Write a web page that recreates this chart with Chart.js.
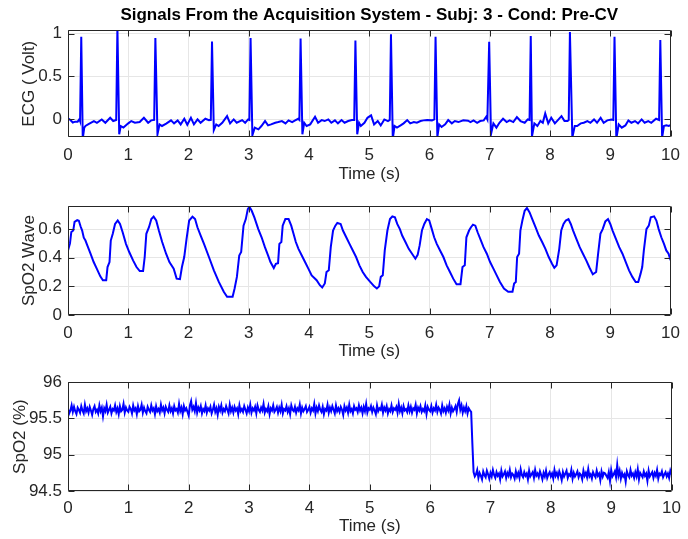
<!DOCTYPE html>
<html>
<head>
<meta charset="utf-8">
<title>Signals From the Acquisition System</title>
<script src="https://cdn.jsdelivr.net/npm/chart.js@4.4.1/dist/chart.umd.min.js"></script>
<style>
  html, body { margin: 0; padding: 0; background: #fff; overflow: hidden; }
  #figure { position: relative; width: 688px; height: 539px; }
  #figure canvas { position: absolute; left: 0; }
</style>
</head>
<body>
<div id="figure">
  <canvas id="ecgChart" width="688" height="190" style="top:0px"></canvas>
  <canvas id="waveChart" width="688" height="176" style="top:190px"></canvas>
  <canvas id="spo2Chart" width="688" height="173" style="top:366px"></canvas>
</div>
<script>
const figureTitle = 'Signals From the Acquisition System - Subj: 3 - Cond: Pre-CV';

const timeTicks = [0, 1, 2, 3, 4, 5, 6, 7, 8, 9, 10];
const ecgTicks = [0, 0.5, 1];
const waveTicks = [0, 0.2, 0.4, 0.6];
const spo2Ticks = [94.5, 95, 95.5, 96];

// ECG trace, [time (s), volt]
const ecgPoints = [
  [0, 0.01], [0.04, -0.01], [0.08, -0.04], [0.12, -0.03], [0.16, -0.03], [0.19, 0.0], [0.2, -0.02],
  [0.22, 0.965], [0.245, -0.23], [0.27, -0.10], [0.29, -0.08], [0.34, -0.06], [0.43, -0.023], [0.48, -0.043],
  [0.56, -0.004], [0.62, -0.043], [0.70, 0.015], [0.75, -0.023], [0.80, -0.01],
  [0.82, 1.08], [0.85, -0.178], [0.875, -0.081], [0.92, -0.10], [1.0, -0.05], [1.05, -0.023], [1.11, -0.043],
  [1.19, -0.035], [1.26, 0.015], [1.33, -0.043], [1.38, -0.015], [1.43, -0.01],
  [1.45, 0.95], [1.485, -0.178], [1.52, -0.062], [1.56, -0.081], [1.63, -0.054], [1.71, -0.015], [1.76, -0.05],
  [1.82, -0.015], [1.87, -0.062], [1.93, 0.004], [1.98, -0.066], [2.04, 0.015], [2.09, -0.062], [2.15, -0.004],
  [2.20, -0.043], [2.28, 0.004], [2.34, -0.012], [2.37, -0.01],
  [2.39, 0.91], [2.42, -0.128], [2.46, -0.062], [2.50, -0.081], [2.56, -0.043], [2.64, 0.035], [2.69, -0.05],
  [2.75, -0.004], [2.80, -0.043], [2.89, -0.012], [2.94, -0.043], [2.99, -0.004], [3.01, -0.01],
  [3.03, 0.95], [3.06, -0.19], [3.10, -0.10], [3.16, -0.12], [3.21, -0.081], [3.27, -0.023], [3.32, -0.074],
  [3.37, -0.062], [3.44, -0.043], [3.49, -0.035], [3.55, -0.023], [3.61, -0.05], [3.66, -0.015], [3.72, -0.035],
  [3.77, -0.015], [3.82, 0.004], [3.84, -0.01],
  [3.86, 0.946], [3.89, -0.178], [3.92, -0.043], [3.96, -0.081], [4.02, -0.062], [4.10, 0.027], [4.15, -0.043],
  [4.21, -0.012], [4.26, -0.023], [4.32, -0.004], [4.37, -0.043], [4.43, -0.015], [4.48, -0.05], [4.54, -0.012],
  [4.59, -0.043], [4.65, -0.023], [4.71, -0.012], [4.75, -0.01],
  [4.77, 0.92], [4.80, -0.178], [4.83, -0.043], [4.86, -0.081], [4.92, -0.043], [4.97, 0.015], [5.03, 0.043],
  [5.08, -0.062], [5.14, -0.023], [5.19, -0.074], [5.25, -0.004], [5.31, -0.023], [5.34, -0.01],
  [5.36, 0.996], [5.39, -0.23], [5.42, -0.081], [5.46, -0.10], [5.52, -0.074], [5.57, -0.05], [5.63, -0.012],
  [5.68, -0.05], [5.74, -0.035], [5.79, -0.043], [5.85, -0.023], [5.90, -0.015], [5.96, -0.012], [6.04, -0.015],
  [6.08, -0.004],
  [6.10, 0.965], [6.13, -0.21], [6.16, -0.062], [6.20, -0.093], [6.26, -0.062], [6.31, -0.012], [6.37, -0.05],
  [6.42, -0.023], [6.48, -0.035], [6.56, -0.015], [6.64, -0.019], [6.68, -0.035], [6.73, -0.015], [6.79, -0.043],
  [6.84, -0.023], [6.90, -0.015], [6.94, 0.027], [6.96, -0.004],
  [6.99, 0.907], [7.02, -0.178], [7.06, -0.05], [7.11, -0.10], [7.16, -0.043], [7.22, 0.004], [7.28, -0.035],
  [7.33, -0.015], [7.39, -0.035], [7.45, 0.023], [7.51, -0.023], [7.58, -0.043], [7.63, -0.004], [7.66, -0.01],
  [7.68, 0.973], [7.70, -0.205], [7.74, -0.05], [7.79, -0.081], [7.84, -0.023], [7.88, -0.043], [7.92, 0.066],
  [7.97, -0.05], [8.02, 0.015], [8.08, -0.05], [8.13, -0.012], [8.19, 0.035], [8.24, -0.023], [8.29, -0.023],
  [8.31, -0.01],
  [8.33, 1.02], [8.37, -0.217], [8.41, -0.081], [8.45, -0.081], [8.51, -0.05], [8.56, -0.043], [8.62, -0.023],
  [8.67, -0.043], [8.73, -0.004], [8.78, -0.043], [8.84, 0.015], [8.89, -0.043], [8.95, -0.015], [9.02, -0.004],
  [9.05, -0.01],
  [9.07, 0.965], [9.10, -0.23], [9.14, -0.062], [9.19, -0.10], [9.25, -0.074], [9.30, -0.015], [9.35, -0.043],
  [9.41, -0.023], [9.46, -0.05], [9.52, -0.004], [9.57, -0.043], [9.63, -0.023], [9.68, -0.043], [9.76, 0.004],
  [9.81, -0.01],
  [9.83, 0.926], [9.86, -0.217], [9.89, -0.081], [9.93, -0.074], [9.97, -0.081], [10.0, -0.07]
];

// pulse oximeter pleth wave, [time (s), value]
const wavePoints = [
  [0, 0.45], [0.033, 0.5], [0.055, 0.58], [0.087, 0.59], [0.109, 0.65], [0.153, 0.663], [0.18, 0.658],
  [0.208, 0.62], [0.235, 0.59], [0.262, 0.54], [0.29, 0.52], [0.317, 0.49], [0.372, 0.43], [0.426, 0.37],
  [0.481, 0.32], [0.536, 0.27], [0.579, 0.243], [0.634, 0.243], [0.656, 0.335], [0.689, 0.37], [0.71, 0.52],
  [0.743, 0.567], [0.781, 0.636], [0.825, 0.66], [0.863, 0.636], [0.907, 0.578], [0.962, 0.497], [1.016, 0.44],
  [1.082, 0.38], [1.137, 0.335], [1.191, 0.307], [1.246, 0.307], [1.273, 0.405], [1.3, 0.567], [1.344, 0.613],
  [1.383, 0.67], [1.421, 0.687], [1.464, 0.66], [1.508, 0.59], [1.563, 0.51], [1.628, 0.428], [1.683, 0.37],
  [1.754, 0.324], [1.803, 0.254], [1.858, 0.25], [1.891, 0.335], [1.929, 0.405], [1.967, 0.53], [2.011, 0.66],
  [2.066, 0.687], [2.109, 0.67], [2.148, 0.613], [2.202, 0.555], [2.257, 0.497], [2.339, 0.405], [2.421, 0.312],
  [2.503, 0.231], [2.585, 0.162], [2.64, 0.127], [2.732, 0.127], [2.765, 0.185], [2.803, 0.266], [2.842, 0.416],
  [2.874, 0.44], [2.913, 0.624], [2.951, 0.67], [2.984, 0.74], [3.011, 0.756], [3.049, 0.728], [3.093, 0.682],
  [3.158, 0.6], [3.213, 0.543], [3.268, 0.474], [3.32, 0.416], [3.36, 0.37], [3.415, 0.328], [3.45, 0.358],
  [3.486, 0.362], [3.508, 0.497], [3.541, 0.51], [3.563, 0.624], [3.607, 0.67], [3.661, 0.67], [3.705, 0.624],
  [3.743, 0.567], [3.781, 0.51], [3.825, 0.462], [3.88, 0.416], [3.934, 0.37], [3.989, 0.324], [4.044, 0.277],
  [4.126, 0.243], [4.18, 0.208], [4.219, 0.192], [4.262, 0.22], [4.29, 0.3], [4.328, 0.312], [4.361, 0.474],
  [4.399, 0.59], [4.437, 0.624], [4.47, 0.643], [4.525, 0.636], [4.563, 0.59], [4.618, 0.543], [4.672, 0.497],
  [4.727, 0.451], [4.781, 0.405], [4.836, 0.347], [4.891, 0.3], [4.945, 0.266], [5.016, 0.231], [5.082, 0.2],
  [5.126, 0.185], [5.164, 0.2], [5.191, 0.266], [5.224, 0.277], [5.257, 0.451], [5.301, 0.59], [5.344, 0.67],
  [5.383, 0.689], [5.426, 0.682], [5.464, 0.636], [5.508, 0.6], [5.546, 0.555], [5.6, 0.51], [5.655, 0.462],
  [5.71, 0.428], [5.765, 0.393], [5.803, 0.42], [5.836, 0.486], [5.874, 0.59], [5.913, 0.636], [5.956, 0.67],
  [5.995, 0.66], [6.038, 0.6], [6.077, 0.543], [6.12, 0.497], [6.175, 0.451], [6.23, 0.405], [6.284, 0.347],
  [6.339, 0.3], [6.393, 0.254], [6.448, 0.215], [6.514, 0.215], [6.547, 0.335], [6.585, 0.347], [6.612, 0.543],
  [6.656, 0.59], [6.688, 0.613], [6.721, 0.631], [6.76, 0.624], [6.798, 0.578], [6.842, 0.532], [6.896, 0.474],
  [6.951, 0.428], [7.005, 0.37], [7.06, 0.324], [7.115, 0.277], [7.169, 0.231], [7.235, 0.185], [7.306, 0.162],
  [7.377, 0.162], [7.404, 0.22], [7.432, 0.231], [7.454, 0.405], [7.486, 0.428], [7.508, 0.59], [7.541, 0.66],
  [7.579, 0.728], [7.617, 0.747], [7.661, 0.717], [7.705, 0.67], [7.759, 0.613], [7.814, 0.555], [7.869, 0.51],
  [7.923, 0.462], [7.978, 0.405], [8.033, 0.358], [8.071, 0.33], [8.109, 0.347], [8.153, 0.462], [8.186, 0.59],
  [8.224, 0.636], [8.262, 0.66], [8.306, 0.67], [8.344, 0.636], [8.383, 0.59], [8.437, 0.532], [8.492, 0.474],
  [8.546, 0.428], [8.601, 0.382], [8.656, 0.33], [8.71, 0.284], [8.765, 0.3], [8.798, 0.428], [8.836, 0.567],
  [8.874, 0.6], [8.918, 0.654], [8.962, 0.67], [9.0, 0.636], [9.038, 0.59], [9.093, 0.532], [9.148, 0.474],
  [9.202, 0.428], [9.257, 0.37], [9.311, 0.312], [9.366, 0.266], [9.421, 0.231], [9.464, 0.231], [9.503, 0.289],
  [9.53, 0.335], [9.557, 0.451], [9.6, 0.6], [9.639, 0.624], [9.672, 0.682], [9.727, 0.689], [9.765, 0.66],
  [9.803, 0.6], [9.847, 0.543], [9.891, 0.497], [9.929, 0.451], [9.967, 0.428], [10.0, 0.382]
];

// SpO2 (%) samples, one every spo2SampleStep seconds
const spo2SampleStep = 0.02;
const spo2Values = [
  95.63, 95.57, 95.61, 95.68, 95.59, 95.66, 95.60, 95.56, 95.65, 95.62,
  95.58, 95.67, 95.61, 95.57, 95.69, 95.60, 95.64, 95.58, 95.66, 95.61,
  95.55, 95.63, 95.67, 95.59, 95.62, 95.57, 95.68, 95.60, 95.65, 95.53,
  95.64, 95.60, 95.69, 95.58, 95.62, 95.66, 95.57, 95.63, 95.61, 95.68,
  95.59, 95.64, 95.56, 95.67, 95.60, 95.62, 95.70, 95.58, 95.65, 95.61,
  95.59, 95.66, 95.63, 95.57, 95.68, 95.61, 95.64, 95.56, 95.67, 95.60,
  95.62, 95.69, 95.58, 95.65, 95.60, 95.57, 95.66, 95.62, 95.59, 95.68,
  95.61, 95.64, 95.56, 95.67, 95.60, 95.63, 95.58, 95.69, 95.61, 95.65,
  95.57, 95.66, 95.62, 95.59, 95.68, 95.60, 95.64, 95.57, 95.67, 95.61,
  95.63, 95.58, 95.70, 95.60, 95.65, 95.56, 95.67, 95.61, 95.64, 95.59,
  95.54, 95.68, 95.74, 95.62, 95.66, 95.60, 95.71, 95.58, 95.65, 95.61,
  95.67, 95.57, 95.63, 95.60, 95.68, 95.58, 95.64, 95.61, 95.66, 95.57,
  95.62, 95.69, 95.59, 95.64, 95.55, 95.66, 95.61, 95.68, 95.58, 95.63,
  95.60, 95.67, 95.62, 95.57, 95.69, 95.60, 95.65, 95.58, 95.66, 95.61,
  95.64, 95.56, 95.68, 95.60, 95.63, 95.59, 95.67, 95.62, 95.57, 95.65,
  95.60, 95.69, 95.58, 95.64, 95.61, 95.66, 95.57, 95.68, 95.62, 95.59,
  95.65, 95.61, 95.70, 95.58, 95.63, 95.60, 95.67, 95.56, 95.64, 95.61,
  95.68, 95.59, 95.62, 95.66, 95.58, 95.65, 95.60, 95.69, 95.57, 95.63,
  95.61, 95.67, 95.59, 95.64, 95.56, 95.68, 95.62, 95.60, 95.66, 95.58,
  95.64, 95.61, 95.69, 95.57, 95.65, 95.60, 95.63, 95.67, 95.59, 95.62,
  95.66, 95.58, 95.64, 95.61, 95.70, 95.57, 95.65, 95.60, 95.68, 95.62,
  95.59, 95.66, 95.56, 95.63, 95.61, 95.69, 95.58, 95.65, 95.60, 95.67,
  95.62, 95.57, 95.68, 95.60, 95.64, 95.59, 95.66, 95.62, 95.55, 95.67,
  95.61, 95.65, 95.58, 95.69, 95.60, 95.63, 95.57, 95.67, 95.62, 95.64,
  95.59, 95.68, 95.61, 95.65, 95.57, 95.66, 95.60, 95.70, 95.58, 95.64,
  95.62, 95.67, 95.59, 95.65, 95.61, 95.56, 95.68, 95.60, 95.64, 95.62,
  95.69, 95.58, 95.65, 95.61, 95.67, 95.57, 95.63, 95.60, 95.68, 95.59,
  95.64, 95.62, 95.66, 95.58, 95.70, 95.60, 95.65, 95.57, 95.67, 95.61,
  95.63, 95.59, 95.68, 95.60, 95.66, 95.58, 95.64, 95.62, 95.69, 95.57,
  95.65, 95.61, 95.67, 95.59, 95.63, 95.60, 95.68, 95.56, 95.66, 95.62,
  95.60, 95.67, 95.58, 95.64, 95.61, 95.69, 95.59, 95.65, 95.62, 95.57,
  95.68, 95.60, 95.64, 95.58, 95.66, 95.61, 95.69, 95.57, 95.65, 95.60,
  95.63, 95.67, 95.59, 95.70, 95.75, 95.62, 95.68, 95.58, 95.65, 95.60,
  95.67, 95.57, 95.64, 95.61, 95.59,
  95.15,
  94.76, 94.70, 94.73, 94.79, 94.68, 94.75, 94.71, 94.66, 94.77, 94.72,
  94.69, 94.78, 94.73, 94.67, 94.75, 94.70, 94.79, 94.72, 94.68, 94.76,
  94.71, 94.74, 94.66, 94.78, 94.70, 94.73, 94.77, 94.68, 94.75, 94.71,
  94.79, 94.69, 94.74, 94.72, 94.67, 94.77, 94.70, 94.75, 94.68, 94.80,
  94.72, 94.69, 94.76, 94.71, 94.74, 94.66, 94.78, 94.70, 94.73, 94.76,
  94.68, 94.79, 94.71, 94.74, 94.69, 94.77, 94.72, 94.66, 94.75, 94.70,
  94.78, 94.68, 94.73, 94.76, 94.70, 94.74, 94.67, 94.79, 94.71, 94.75,
  94.69, 94.77, 94.72, 94.65, 94.76, 94.70, 94.74, 94.78, 94.68, 94.73,
  94.71, 94.79, 94.67, 94.75, 94.70, 94.73, 94.77, 94.69, 94.74, 94.72,
  94.66, 94.78, 94.71, 94.75, 94.69, 94.80, 94.70, 94.73, 94.67, 94.76,
  94.72, 94.69, 94.78, 94.71, 94.74, 94.65, 94.77, 94.70, 94.75, 94.74,
  94.71, 94.68, 94.76, 94.64, 94.79, 94.70, 94.73, 94.77, 94.69, 94.86,
  94.71, 94.78, 94.67, 94.75, 94.70, 94.73, 94.63, 94.77, 94.72, 94.69,
  94.79, 94.71, 94.74, 94.68, 94.76, 94.70, 94.80, 94.66, 94.75, 94.72,
  94.69, 94.77, 94.71, 94.74, 94.64, 94.78, 94.70, 94.73, 94.76, 94.68,
  94.75, 94.71, 94.79, 94.67, 94.74, 94.72, 94.77, 94.69, 94.73, 94.76,
  94.70, 94.74, 94.68, 94.78, 94.73
];

const textColor = '#262626';
const gridColor = '#e6e6e6';
const lineColor = '#0000ff';
const fontFamily = "'Liberation Sans', Arial, Helvetica, sans-serif";

Chart.defaults.font.family = fontFamily;
Chart.defaults.font.size = 17;
Chart.defaults.color = textColor;

// MATLAB-style box round the axes with the tick marks pointing inward
const axesBox = {
	id: 'axesBox',
	afterDraw(chart) {
		const {ctx, chartArea, scales: {x, y}} = chart;
		const left = Math.round(chartArea.left) + 0.5;
		const right = Math.round(chartArea.right) - 0.5;
		const top = Math.round(chartArea.top) + 0.5;
		const bottom = Math.round(chartArea.bottom) - 0.5;
		const len = 6;

		ctx.save();
		ctx.strokeStyle = textColor;
		ctx.lineWidth = 1;
		ctx.beginPath();
		x.ticks.forEach(t => {
			const px = Math.round(x.getPixelForValue(t.value)) + 0.5;
			ctx.moveTo(px, bottom); ctx.lineTo(px, bottom - len);
			ctx.moveTo(px, top); ctx.lineTo(px, top + len);
		});
		y.ticks.forEach(t => {
			const py = Math.round(y.getPixelForValue(t.value)) + 0.5;
			ctx.moveTo(left, py); ctx.lineTo(left + len, py);
			ctx.moveTo(right, py); ctx.lineTo(right - len, py);
		});
		ctx.rect(left, top, right - left, bottom - top);
		ctx.stroke();
		ctx.restore();
	}
};

function makePanel(canvasId, panel) {
	const canvas = document.getElementById(canvasId);
	return new Chart(canvas, {
		type: 'line',
		data: {
			datasets: [{
				data: panel.points.map(([x, y]) => ({x, y})),
				borderColor: lineColor,
				borderWidth: 2,
				pointRadius: 0,
				tension: 0,
				fill: false,
				clip: 0
			}]
		},
		options: {
			responsive: false,
			animation: false,
			devicePixelRatio: 1,
			events: [],
			layout: { padding: { top: panel.padTop, right: 10, bottom: 0, left: 0 } },
			plugins: {
				legend: { display: false },
				tooltip: { enabled: false },
				title: {
					display: !!panel.heading,
					text: panel.heading || '',
					fullSize: false,
					color: '#000',
					font: { size: 17, weight: 'bold' },
					padding: { top: 5, bottom: 5 }
				}
			},
			scales: {
				x: {
					type: 'linear',
					min: 0,
					max: 10,
					afterBuildTicks: s => { s.ticks = timeTicks.map(v => ({value: v})); },
					afterFit: s => { s.height = panel.xAxisHeight; },
					grid: { color: gridColor, drawTicks: false },
					border: { display: false },
					ticks: { padding: panel.xTickPad, maxRotation: 0, autoSkip: false, color: textColor },
					title: { display: true, text: 'Time (s)', color: textColor, padding: { top: 0, bottom: panel.xTitlePad } }
				},
				y: {
					type: 'linear',
					min: panel.yMin,
					max: panel.yMax,
					afterBuildTicks: s => { s.ticks = panel.ticks.map(v => ({value: v})); },
					afterFit: s => { s.width = 68; },
					grid: { color: gridColor, drawTicks: false },
					border: { display: false },
					ticks: { padding: 6, color: textColor, callback: v => String(v) },
					title: { display: true, text: panel.yLabel, color: textColor, padding: { top: panel.yTitlePad, bottom: 0 } }
				}
			}
		},
		plugins: [axesBox]
	});
}

makePanel('ecgChart', {
	heading: figureTitle,
	points: ecgPoints,
	ticks: ecgTicks,
	yMin: -0.21, yMax: 1.04,
	yLabel: 'ECG ( Volt)',
	padTop: 0, xAxisHeight: 53, xTickPad: 8, xTitlePad: 5, yTitlePad: 19
});

makePanel('waveChart', {
	points: wavePoints,
	ticks: waveTicks,
	yMin: 0, yMax: 0.76,
	yLabel: 'SpO2 Wave',
	padTop: 15, xAxisHeight: 51, xTickPad: 8, xTitlePad: 4, yTitlePad: 19
});

makePanel('spo2Chart', {
	points: spo2Values.map((v, i) => [i * spo2SampleStep, v]),
	ticks: spo2Ticks,
	yMin: 94.5, yMax: 96,
	yLabel: 'SpO2 (%)',
	padTop: 16, xAxisHeight: 48, xTickPad: 7, xTitlePad: 2, yTitlePad: 10
});
</script>
</body>
</html>
